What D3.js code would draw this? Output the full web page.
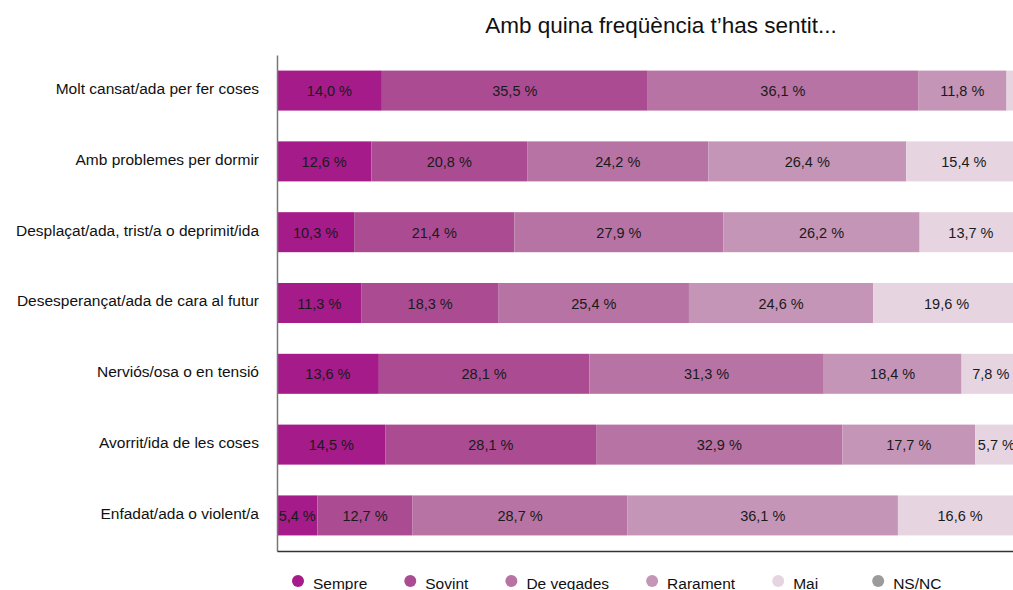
<!DOCTYPE html>
<html>
<head>
<meta charset="utf-8">
<script src="https://cdn.jsdelivr.net/npm/d3@7"></script>
<style>
  html, body { margin: 0; padding: 0; background: #fff; overflow: hidden; }
  svg { display: block; font-family: "Liberation Sans", Arial, Helvetica, sans-serif; }
</style>
</head>
<body>
<svg id="chart" width="1013" height="590"></svg>
<script>
const title = "Amb quina freqüència t’has sentit...";
const categories = [
  "Molt cansat/ada per fer coses",
  "Amb problemes per dormir",
  "Desplaçat/ada, trist/a o deprimit/ida",
  "Desesperançat/ada de cara al futur",
  "Nerviós/osa o en tensió",
  "Avorrit/ida de les coses",
  "Enfadat/ada o violent/a"
];
const seriesNames = ["Sempre", "Sovint", "De vegades", "Rarament", "Mai", "NS/NC"];
const sempre    = [14.0, 12.6, 10.3, 11.3, 13.6, 14.5, 5.4];
const sovint    = [35.5, 20.8, 21.4, 18.3, 28.1, 28.1, 12.7];
const deVegades = [36.1, 24.2, 27.9, 25.4, 31.3, 32.9, 28.7];
const rarament  = [11.8, 26.4, 26.2, 24.6, 18.4, 17.7, 36.1];
const mai       = [2.2, 15.4, 13.7, 19.6, 7.8, 5.7, 16.6];
const nsnc      = [0.4, 0.6, 0.5, 0.8, 0.8, 1.1, 0.5];
const seriesValues = [sempre, sovint, deVegades, rarament, mai, nsnc];
const colors = ["#a51b8a", "#ab4c93", "#b773a4", "#c595b7", "#e6d5e1", "#9b9b9b"];

const svg = d3.select("#chart");
const x0 = 277, x1 = 1026, yTop = 55, yBot = 551;

const x = d3.scaleLinear().domain([0, 100]).range([x0, x1]);
const y = d3.scaleBand().domain(categories).range([yTop, yBot]).paddingInner(0.435).paddingOuter(0.22);
const color = d3.scaleOrdinal().domain(seriesNames).range(colors);

const rows = categories.map((c, i) => {
  const r = { cat: c };
  seriesNames.forEach((s, j) => r[s] = seriesValues[j][i]);
  return r;
});
const stacked = d3.stack().keys(seriesNames)(rows);

// title
svg.append("text")
  .attr("x", 661).attr("y", 33)
  .attr("text-anchor", "middle")
  .attr("font-size", 22.5)
  .attr("fill", "#111")
  .text(title);

// bars
const layers = svg.append("g").selectAll("g").data(stacked).join("g")
  .attr("fill", d => color(d.key));
layers.selectAll("rect").data(d => d).join("rect")
  .attr("x", d => x(d[0]))
  .attr("y", d => y(d.data.cat))
  .attr("width", d => x(d[1]) - x(d[0]))
  .attr("height", y.bandwidth());

// value labels
const fmt = v => d3.format(".1f")(v).replace(".", ",") + " %";
const labelG = svg.append("g");
stacked.forEach(layer => {
  layer.forEach(d => {
    const v = d[1] - d[0];
    if (v < 3) return;
    labelG.append("text")
      .attr("x", (x(d[0]) + x(d[1])) / 2)
      .attr("y", y(d.data.cat) + y.bandwidth() / 2)
      .attr("dy", "0.38em")
      .attr("text-anchor", "middle")
      .attr("font-size", 14.5)
      .attr("fill", "#1a1a1a")
      .text(fmt(v));
  });
});

// axes
const yAxis = svg.append("g")
  .attr("transform", `translate(${x0},0)`)
  .call(d3.axisLeft(y).tickSize(0).tickPadding(18));
yAxis.select(".domain").attr("stroke", "#777").attr("stroke-width", 1.5);
yAxis.selectAll("text")
  .attr("font-size", 15.5)
  .attr("font-family", "'Liberation Sans', Arial, sans-serif")
  .attr("fill", "#111")
  .attr("dy", "0.22em");

const xAxis = svg.append("g")
  .attr("transform", `translate(0,${yBot})`)
  .call(d3.axisBottom(x).tickValues([]).tickSizeOuter(0));
xAxis.select(".domain").attr("stroke", "#333").attr("stroke-width", 1.5);

// legend
const legend = svg.append("g").attr("transform", "translate(0,581)");
let lx = 298;
seriesNames.forEach((s, i) => {
  const g = legend.append("g").attr("transform", `translate(${lx},0)`);
  g.append("circle").attr("r", 6).attr("fill", color(s));
  const t = g.append("text")
    .attr("x", 15).attr("y", 8)
    .attr("font-size", 15.5)
    .attr("fill", "#111")
    .text(s);
  const w = t.node().getComputedTextLength();
  lx += Math.max(w + 58, 100);
});
</script>
</body>
</html>
